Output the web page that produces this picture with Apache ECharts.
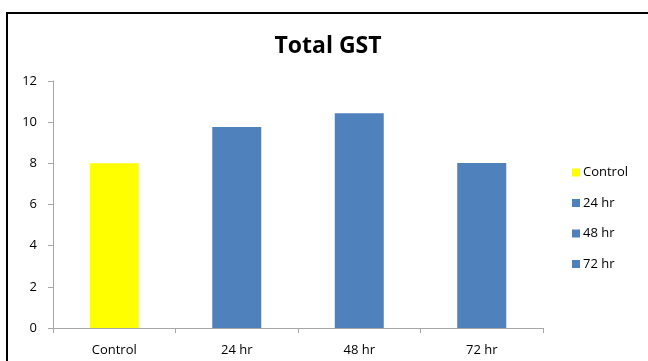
<!DOCTYPE html>
<html>
<head>
<meta charset="utf-8">
<script src="https://cdn.jsdelivr.net/npm/echarts@6/dist/echarts.min.js"></script>
<style>
  html, body { margin: 0; padding: 0; background: #fff; }
  #chart { width: 648px; height: 361px; }
</style>
</head>
<body>
<div id="chart"></div>
<script>
// categories and values
const categories = ["Control", "24 hr", "48 hr", "72 hr"];
const values = [8.0, 9.77, 10.43, 8.02];
const barColors = ["#ffff00", "#4f81bd", "#4f81bd", "#4f81bd"];
const yTicks = [0, 2, 4, 6, 8, 10, 12];

const myChart = echarts.init(document.getElementById("chart"));

// one series per category so the legend lists each bar
const series = categories.map((name, i) => ({
  name: name,
  type: "bar",
  stack: "all",
  barWidth: "40%",
  itemStyle: { color: barColors[i] },
  data: categories.map((c, j) => (j === i ? values[i] : "-")),
}));

const option = {
  backgroundColor: "#fff",
  animation: false,
  textStyle: { fontFamily: "Open Sans" },
  title: {
    text: "Total GST",
    left: 323,
    textAlign: "center",
    top: 30,
    textStyle: { fontFamily: "Open Sans", fontSize: 23, fontWeight: "bold", color: "#000" },
  },
  legend: {
    orient: "vertical",
    left: 567,
    top: 161,
    itemWidth: 8,
    itemHeight: 8,
    itemGap: 17.5,
    icon: "rect",
    textStyle: { fontSize: 13, color: "#000", padding: [0, 0, 0, -2] },
    data: categories,
  },
  grid: { left: 53, right: 105, top: 81, bottom: 33, containLabel: false },
  xAxis: {
    type: "category",
    data: categories,
    axisLine: { lineStyle: { color: "#a6a6a6", width: 1 } },
    axisTick: { show: true, length: 5, lineStyle: { color: "#a6a6a6" } },
    axisLabel: { color: "#000", fontSize: 13, margin: 16 },
  },
  yAxis: {
    type: "value",
    min: yTicks[0],
    max: yTicks[yTicks.length - 1],
    interval: 2,
    axisLine: { show: true, lineStyle: { color: "#a6a6a6", width: 1 } },
    axisTick: { show: true, length: 5, lineStyle: { color: "#a6a6a6" } },
    axisLabel: { color: "#000", fontSize: 13, margin: 16 },
    splitLine: { show: false },
  },
  graphic: [
    {
      type: "rect",
      shape: { x: 7, y: 13, width: 700, height: 400 },
      style: { fill: "none", stroke: "#000", lineWidth: 2 },
      silent: true,
    },
  ],
  series: series,
};

myChart.setOption(option);
</script>
</body>
</html>
